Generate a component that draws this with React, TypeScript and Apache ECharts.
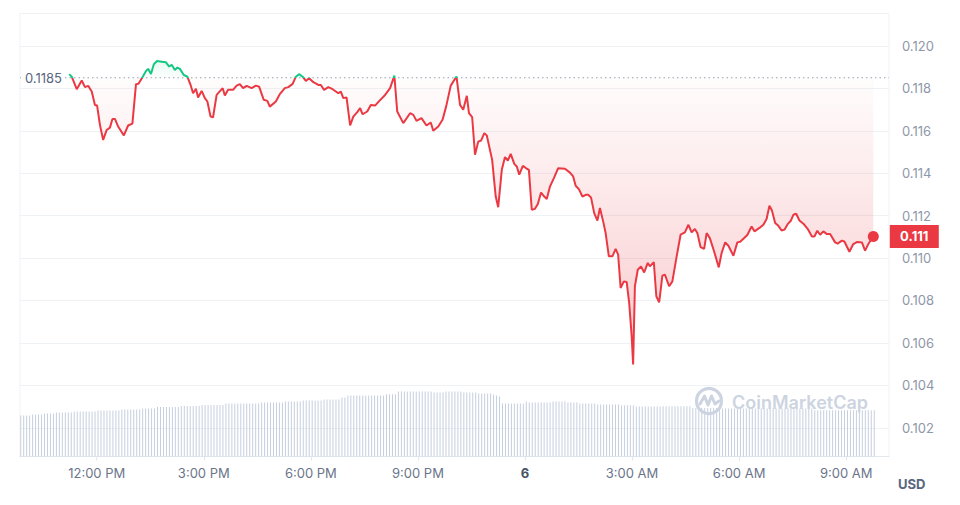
import React, { useEffect, useRef } from 'react';
import * as echarts from 'echarts';

// Price trace: hours relative to midnight of day 6, and price in USD
const priceHours = [
  -12.77, -12.70, -12.56, -12.42, -12.33, -12.24, -12.14, -12.05, -11.99, -11.91,
  -11.82, -11.72, -11.63, -11.56, -11.49, -11.40, -11.24, -11.12, -11.00, -10.90,
  -10.83, -10.71, -10.62, -10.56, -10.48, -10.40, -10.31, -10.18, -10.06, -9.97,
  -9.90, -9.81, -9.74, -9.67, -9.56, -9.46, -9.37, -9.30, -9.22, -9.16,
  -9.06, -8.97, -8.90, -8.81, -8.74, -8.64, -8.47, -8.41, -8.32, -8.18,
  -8.08, -7.99, -7.90, -7.80, -7.66, -7.54, -7.45, -7.32, -7.22, -7.15,
  -6.98, -6.87, -6.73, -6.63, -6.51, -6.42, -6.33, -6.23, -6.14, -6.05,
  -5.93, -5.79, -5.72, -5.63, -5.51, -5.39, -5.23, -5.16, -5.09, -5.00,
  -4.90, -4.81, -4.70, -4.62, -4.55, -4.42, -4.32, -4.20, -4.08, -3.92,
  -3.78, -3.66, -3.58, -3.41, -3.22, -3.13, -3.04, -2.90, -2.76, -2.64,
  -2.57, -2.43, -2.31, -2.21, -2.08, -1.92, -1.82, -1.73, -1.63, -1.57,
  -1.48, -1.40, -1.31, -1.23, -1.14, -1.07, -0.92, -0.82, -0.75, -0.65,
  -0.56, -0.48, -0.40, -0.30, -0.23, -0.16, -0.06, 0.05, 0.11, 0.19,
  0.28, 0.36, 0.45, 0.54, 0.61, 0.70, 0.81, 0.93, 1.12, 1.26,
  1.35, 1.42, 1.51, 1.61, 1.70, 1.77, 1.85, 1.94, 2.03, 2.10,
  2.19, 2.26, 2.35, 2.45, 2.54, 2.61, 2.68, 2.77, 2.85, 2.92,
  2.99, 3.03, 3.08, 3.16, 3.25, 3.34, 3.44, 3.50, 3.61, 3.68,
  3.76, 3.85, 3.92, 4.04, 4.13, 4.25, 4.36, 4.48, 4.58, 4.67,
  4.76, 4.83, 4.92, 5.02, 5.09, 5.18, 5.30, 5.43, 5.51, 5.61,
  5.70, 5.84, 5.95, 6.03, 6.12, 6.23, 6.35, 6.43, 6.57, 6.68,
  6.77, 6.85, 6.92, 7.01, 7.10, 7.19, 7.27, 7.36, 7.45, 7.52,
  7.60, 7.69, 7.80, 7.92, 8.04, 8.11, 8.19, 8.27, 8.36, 8.46,
  8.55, 8.69, 8.76, 8.88, 8.95, 9.09, 9.20, 9.31, 9.44, 9.53,
  9.62, 9.76,
];

const prices = [
  0.11867, 0.11855, 0.11796, 0.11837, 0.11806, 0.11812, 0.11785, 0.11722, 0.11719, 0.11628,
  0.11557, 0.11604, 0.11615, 0.11656, 0.11656, 0.11620, 0.11578, 0.11625, 0.11634, 0.11820,
  0.11822, 0.11855, 0.11882, 0.11892, 0.11868, 0.11914, 0.11929, 0.11926, 0.11923, 0.11903,
  0.11911, 0.11887, 0.11898, 0.11892, 0.11863, 0.11855, 0.11816, 0.11777, 0.11798, 0.11757,
  0.11788, 0.11754, 0.11738, 0.11667, 0.11664, 0.11769, 0.11801, 0.11766, 0.11793, 0.11793,
  0.11813, 0.11820, 0.11801, 0.11812, 0.11801, 0.11813, 0.11808, 0.11746, 0.11741, 0.11714,
  0.11738, 0.11773, 0.11801, 0.11806, 0.11821, 0.11855, 0.11867, 0.11855, 0.11835, 0.11848,
  0.11829, 0.11816, 0.11816, 0.11793, 0.11806, 0.11796, 0.11777, 0.11785, 0.11754, 0.11757,
  0.11625, 0.11667, 0.11688, 0.11707, 0.11678, 0.11691, 0.11722, 0.11719, 0.11741, 0.11769,
  0.11801, 0.11860, 0.11691, 0.11636, 0.11683, 0.11675, 0.11647, 0.11660, 0.11625, 0.11639,
  0.11600, 0.11620, 0.11652, 0.11714, 0.11813, 0.11856, 0.11722, 0.11699, 0.11765, 0.11683,
  0.11664, 0.11487, 0.11549, 0.11554, 0.11589, 0.11578, 0.11463, 0.11290, 0.11240, 0.11416,
  0.11476, 0.11460, 0.11491, 0.11444, 0.11432, 0.11393, 0.11435, 0.11421, 0.11416, 0.11228,
  0.11232, 0.11255, 0.11309, 0.11290, 0.11278, 0.11337, 0.11377, 0.11424, 0.11421, 0.11403,
  0.11385, 0.11341, 0.11325, 0.11290, 0.11298, 0.11298, 0.11286, 0.11212, 0.11177, 0.11236,
  0.11173, 0.11118, 0.11008, 0.11008, 0.11043, 0.11016, 0.10859, 0.10890, 0.10887, 0.10788,
  0.10631, 0.10498, 0.10867, 0.10945, 0.10961, 0.10932, 0.10977, 0.10961, 0.10981, 0.10820,
  0.10791, 0.10917, 0.10922, 0.10867, 0.10890, 0.11008, 0.11110, 0.11121, 0.11157, 0.11121,
  0.11137, 0.11118, 0.11052, 0.11043, 0.11118, 0.11094, 0.11031, 0.10956, 0.11024, 0.11074,
  0.11058, 0.11011, 0.11074, 0.11077, 0.11091, 0.11109, 0.11149, 0.11126, 0.11142, 0.11157,
  0.11184, 0.11247, 0.11224, 0.11165, 0.11152, 0.11130, 0.11134, 0.11160, 0.11176, 0.11204,
  0.11209, 0.11177, 0.11162, 0.11138, 0.11102, 0.11102, 0.11129, 0.11110, 0.11126, 0.11113,
  0.11113, 0.11074, 0.11068, 0.11082, 0.11078, 0.11030, 0.11066, 0.11076, 0.11074, 0.11035,
  0.11066, 0.11102,
];

// Volume bars (arbitrary units), one every 5 minutes
const volumeStartHour = -14.13;
const volumeStepMinutes = 5;
const volumes = [
  41, 41, 41, 41, 42, 42, 42, 42, 43, 43, 43, 43,
  44, 44, 44, 44, 44, 44, 45, 45, 45, 45, 45, 45,
  45, 45, 46, 46, 46, 46, 46, 46, 46, 46, 47, 47,
  47, 47, 47, 47, 47, 48, 48, 48, 48, 48, 49.5, 49.5,
  49.5, 49.5, 49.5, 49.5, 49.5, 49.5, 50.5, 50.5, 50.5, 50.5, 50.5, 50.5,
  50.5, 51.5, 51.5, 51.5, 51.5, 51.5, 51.5, 51.5, 51.5, 53, 53, 53,
  53, 53, 53, 53, 53, 53, 53, 53, 53, 54, 54, 54,
  54, 54, 54, 54, 54, 55, 55, 55, 55, 55, 55, 56,
  56, 56, 56, 56, 56, 56, 57, 57, 57, 57, 57, 57,
  59, 59, 61, 61, 61, 61, 61, 61, 61, 61, 61, 61,
  61, 61, 61, 62.3, 62.3, 62.3, 62.3, 65, 65, 65, 65, 65,
  65, 65, 65, 65, 65, 65, 65, 64, 64, 64, 64, 65,
  65, 65, 65, 65, 65, 64, 64, 64, 64, 64, 63, 63,
  63, 63, 63, 62, 61, 60, 53, 53, 53, 53, 53, 53,
  53, 53, 55, 54, 54, 54, 54, 54, 54, 54, 54, 55,
  55, 55, 55, 55, 54, 54, 54, 54, 53, 53, 53, 53,
  53, 53, 52, 52, 52, 52, 52, 52, 52, 52, 51.3, 51.3,
  51.3, 51.3, 51.3, 50, 50, 50, 50, 50, 50, 50, 50, 50,
  50.3, 50.3, 50.3, 50.3, 50.3, 50.3, 50.3, 50.3, 50.3, 50.3, 48.5, 48.5,
  48.5, 48.5, 48.5, 48.5, 48.5, 48.5, 48.5, 48.5, 48, 48, 48, 48,
  48, 48, 48, 48, 48, 48, 48, 48, 48, 48, 48, 48,
  48, 48, 48, 48, 48, 48, 48, 48, 48, 48, 48, 48,
  48, 48, 48, 46.3, 46.3, 46.3, 46.3, 46.3, 46.3, 46.3, 46.3, 46.3,
  46.3, 46.3, 46.3, 46.3, 46.3, 46.3, 46.3, 46.3, 46.3, 46.3, 46.3, 46.3,
];

const xTickHours = [-12, -9, -6, -3, 0, 3, 6, 9];
const xTickLabels = ['12:00 PM', '3:00 PM', '6:00 PM', '9:00 PM', '6', '3:00 AM', '6:00 AM', '9:00 AM'];
const referencePrice = 0.1185;
const xMin = -14.15;
const xMax = 10.2;
const yMin = 0.100645;
const yMax = 0.12153;
const volumeAxisMax = 443;

export default function App() {
  const ref = useRef<HTMLDivElement>(null);

  useEffect(() => {
    if (!ref.current) return;
    const chart = echarts.init(ref.current, null, { renderer: 'svg' });
    const RED = '#ea3943';
    const GREEN = '#16c784';
    const font = 'Inter, "Noto Sans", sans-serif';

    const linePts = priceHours.map((h, i) => [h, prices[i]]);
    const redPts = priceHours.map((h, i) => [h, Math.min(prices[i], referencePrice)]);
    const greenPts = priceHours.map((h, i) => [h, Math.max(prices[i], referencePrice)]);
    const volPts = volumes.map((v, i) => [volumeStartHour + (i * volumeStepMinutes) / 60, v]);
    const last = linePts[linePts.length - 1];
    const gridTop = 13.5;
    const gridHeight = 443;

    chart.setOption({
      animation: false,
      grid: {
        left: 20,
        top: gridTop,
        width: 869,
        height: gridHeight,
        show: true,
        borderColor: '#eff2f5',
        borderWidth: 1,
        backgroundColor: 'transparent',
      },
      xAxis: {
        type: 'value',
        min: xMin,
        max: xMax,
        minInterval: 3,
        maxInterval: 3,
        splitNumber: 8,
        axisLine: { lineStyle: { color: '#e3e7ee' } },
        axisTick: { show: true, length: 4, lineStyle: { color: '#e3e7ee' } },
        splitLine: { show: false },
        axisLabel: {
          showMinLabel: false,
          showMaxLabel: false,
          margin: 10,
          fontFamily: font,
          fontSize: 13,
          color: '#6b758a',
          formatter: (v: number) => {
            const idx = xTickHours.findIndex((h) => Math.abs(h - v) < 1e-6);
            if (idx < 0) return '';
            const s = xTickLabels[idx];
            return Math.abs(v) < 1e-6 ? `{day|${s}}` : s;
          },
          rich: {
            day: { fontWeight: 'bold', color: '#4b5568', fontSize: 13, fontFamily: font },
          },
        },
      },
      yAxis: [
        {
          type: 'value',
          position: 'right',
          min: yMin,
          max: yMax,
          minInterval: 0.002,
          maxInterval: 0.002,
          splitNumber: 10,
          axisLine: { show: false },
          axisTick: { show: false },
          splitLine: { lineStyle: { color: '#eff2f5' } },
          axisLabel: {
            showMinLabel: false,
            showMaxLabel: false,
            margin: 13,
            fontFamily: font,
            fontSize: 13,
            color: '#8f97a9',
            formatter: (v: number) => v.toFixed(3),
          },
        },
        { type: 'value', min: 0, max: volumeAxisMax, show: false },
      ],
      series: [
        {
          type: 'bar',
          yAxisIndex: 1,
          data: volPts,
          barWidth: 1,
          itemStyle: { color: '#c6cfdf' },
          silent: true,
          z: 1,
        },
        {
          type: 'line',
          data: redPts,
          symbol: 'none',
          lineStyle: { opacity: 0, width: 0 },
          areaStyle: {
            origin: referencePrice,
            color: new echarts.graphic.LinearGradient(0, 0, 0, 1, [
              { offset: 0, color: 'rgba(234,57,67,0.02)' },
              { offset: 1, color: 'rgba(234,57,67,0.38)' },
            ]),
          },
          silent: true,
          z: 2,
        },
        {
          type: 'line',
          data: greenPts,
          symbol: 'none',
          lineStyle: { opacity: 0, width: 0 },
          areaStyle: {
            origin: referencePrice,
            color: new echarts.graphic.LinearGradient(0, 0, 0, 1, [
              { offset: 0, color: 'rgba(22,199,132,0.14)' },
              { offset: 1, color: 'rgba(22,199,132,0.02)' },
            ]),
          },
          silent: true,
          z: 2,
        },
        {
          type: 'line',
          data: [[xMin, referencePrice], [xMax, referencePrice]],
          symbol: 'none',
          lineStyle: { color: '#9aa3b5', type: [1.5, 3], width: 1.2 },
          silent: true,
          z: 3,
        },
        {
          type: 'line',
          data: linePts,
          symbol: 'none',
          lineStyle: { width: 2, color: RED },
          z: 4,
        },
        {
          type: 'scatter',
          data: [last],
          symbolSize: 11,
          itemStyle: { color: RED, opacity: 1 },
          z: 5,
          silent: true,
        },
        {
          type: 'scatter',
          data: [last],
          symbol: 'rect',
          symbolSize: [49, 23],
          symbolOffset: [41, 0],
          clip: false,
          itemStyle: { color: RED, opacity: 1 },
          z: 6,
          silent: true,
          label: {
            show: true,
            position: 'inside',
            color: '#ffffff',
            fontWeight: 'bold',
            fontSize: 13,
            fontFamily: font,
            formatter: () => (last[1] as number).toFixed(3),
          },
        },
      ],
    });

    const py = chart.convertToPixel({ yAxisIndex: 0 }, referencePrice) as number;
    const gridBottom = gridTop + gridHeight;
    const f = Math.min(1, Math.max(0, (py - gridTop) / gridHeight));
    chart.setOption({
      series: [
        {},
        {},
        {},
        {},
        {
          lineStyle: {
            width: 2,
            color: new echarts.graphic.LinearGradient(
              0, gridTop, 0, gridBottom,
              [
                { offset: 0, color: GREEN },
                { offset: f, color: GREEN },
                { offset: f, color: RED },
                { offset: 1, color: RED },
              ],
              true,
            ),
          },
        },
      ],
      graphic: [
        { type: 'rect', shape: { x: 21, y: py - 9, width: 44, height: 18 }, style: { fill: '#ffffff' }, z: 10 },
        {
          type: 'text',
          x: 25,
          y: py,
          z: 11,
          style: { text: String(referencePrice), fill: '#58667e', fontSize: 13, fontFamily: font, verticalAlign: 'middle', align: 'left' },
        },
        {
          type: 'text',
          x: 898,
          y: 484,
          z: 11,
          style: { text: 'USD', fill: '#58667e', fontSize: 13, fontWeight: 'bold', fontFamily: font, verticalAlign: 'middle', align: 'left' },
        },
        {
          type: 'circle',
          shape: { cx: 709, cy: 401, r: 12.5 },
          style: { fill: 'none', stroke: '#cdd4e1', lineWidth: 3.2 },
          z: 9,
        },
        {
          type: 'polyline',
          shape: { points: [[700, 404], [704.5, 396], [708, 405], [711.5, 396], [715, 404], [719, 401]] },
          style: { fill: 'none', stroke: '#cdd4e1', lineWidth: 3, lineJoin: 'round', lineCap: 'round' },
          z: 9,
        },
        {
          type: 'text',
          x: 732,
          y: 402,
          z: 9,
          style: { text: 'CoinMarketCap', fill: '#cdd4e1', fontSize: 18, fontWeight: 600, fontFamily: font, verticalAlign: 'middle', align: 'left' },
        },
      ],
    });

    return () => chart.dispose();
  }, []);

  return <div ref={ref} style={{ position: 'absolute', left: 0, top: 0, width: 960, height: 505 }} />;
}
